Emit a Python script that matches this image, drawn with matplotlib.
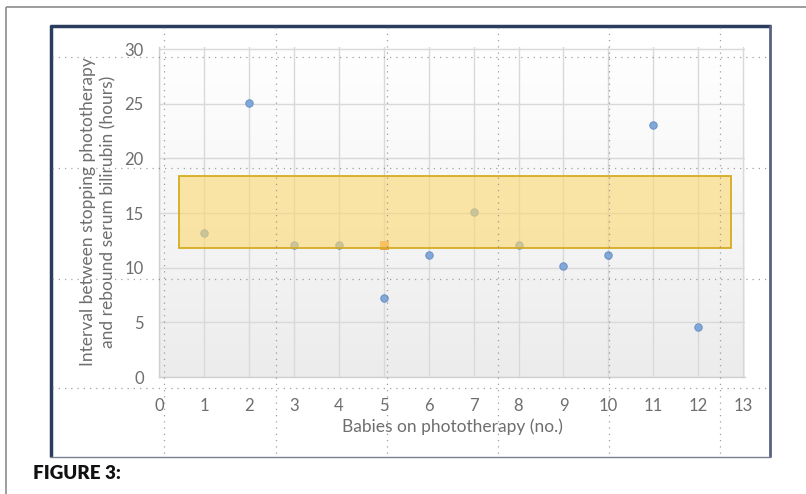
import matplotlib
matplotlib.use("Agg")
import matplotlib.pyplot as plt
import numpy as np
from matplotlib.lines import Line2D
from matplotlib.patches import Rectangle

# ---- data ----
babies = [1, 2, 3, 4, 5, 6, 7, 8, 9, 10, 11, 12]
interval_hours = [13.2, 25.1, 12.1, 12.1, 7.2, 11.2, 15.1, 12.1, 10.2, 11.2, 23.1, 4.6]
highlight_x = [5]
highlight_y = [12.1]
band_x = [0.45, 12.73]
band_y = [11.8, 18.4]
x_ticks = list(range(0, 14))
y_ticks = [0, 5, 10, 15, 20, 25, 30]

plt.rcParams['font.family'] = ['Lato', 'DejaVu Sans']

W, H = 806, 494
fig = plt.figure(figsize=(W / 100, H / 100), dpi=100)
fig.patch.set_facecolor('white')

def fx(px):
    return px / W

def fy(py):
    return 1 - py / H

ax = fig.add_axes([fx(159), fy(377), fx(745) - fx(159), fy(47) - fy(377)])
ax.set_xlim(0, 13.04)
ax.set_ylim(0, 30.2)

# background gradient (light gray at bottom to white at top)
grad = np.linspace(0, 1, 256).reshape(-1, 1)
ax.imshow(grad, extent=[0, 1, 0, 1], transform=ax.transAxes, origin='lower',
          cmap=matplotlib.colors.LinearSegmentedColormap.from_list(
              'g', ['#ececec', '#f6f6f6', '#ffffff']),
          aspect='auto', zorder=0)

ax.set_xticks(x_ticks)
ax.set_yticks(y_ticks)
ax.grid(True, color='#d9d9d9', lw=1.0, zorder=1)
ax.set_axisbelow(True)
ax.tick_params(axis='both', length=0, colors='#6e6e6e', labelsize=12)
ax.tick_params(axis='x', pad=15)
ax.tick_params(axis='y', pad=11)
for s in ['top', 'right']:
    ax.spines[s].set_visible(False)
for s in ['left', 'bottom']:
    ax.spines[s].set_color('#d0d0d0')
    ax.spines[s].set_linewidth(1.0)

ax.scatter(babies, interval_hours, s=28, color='#82a8d8', edgecolor='#6d94c8',
           linewidth=0.8, zorder=3)
ax.scatter(highlight_x, highlight_y, s=28, marker='s', color='#f5a04a',
           edgecolor='#f08a30', linewidth=0.5, zorder=3)

ax.add_patch(Rectangle((band_x[0], band_y[0]), band_x[1] - band_x[0],
                       band_y[1] - band_y[0], facecolor='#fcd870', alpha=0.6,
                       edgecolor='none', zorder=4))
ax.add_patch(Rectangle((band_x[0], band_y[0]), band_x[1] - band_x[0],
                       band_y[1] - band_y[0], facecolor='none',
                       edgecolor='#d4ac22', lw=1.3, zorder=5))

ax.set_xlabel('Babies on phototherapy (no.)', color='#6e6e6e', fontsize=12.5)
ax.xaxis.set_label_coords(0.5, -0.125)
ax.set_ylabel('Interval between stopping phototherapy\nand rebound serum bilirubin (hours)',
              color='#6e6e6e', fontsize=12.5, linespacing=1.3)
ax.yaxis.set_label_coords(-0.073, 0.5)

# scanned page artifacts: dotted layout grid
for px in [164, 276, 387, 498, 609, 720]:
    fig.add_artist(Line2D([fx(px), fx(px)], [fy(27), fy(456)], color='#7a7a7a',
                          lw=0.9, ls=(0, (1, 4)), alpha=0.7, zorder=6))
for py in [57, 168, 279, 388]:
    fig.add_artist(Line2D([fx(52), fx(769)], [fy(py), fy(py)], color='#7a7a7a',
                          lw=0.9, ls=(0, (1, 4)), alpha=0.7, zorder=6))

# frame around the figure panel
kw = dict(solid_capstyle='butt')
fig.add_artist(Line2D([fx(51), fx(51)], [fy(25), fy(457)], color='#2b3d5f', lw=2.5, **kw))
fig.add_artist(Line2D([fx(50), fx(771)], [fy(26), fy(26)], color='#2b3d5f', lw=2.5, **kw))
fig.add_artist(Line2D([fx(770), fx(770)], [fy(25), fy(457)], color='#5a6284', lw=2.0, **kw))
fig.add_artist(Line2D([fx(50), fx(771)], [fy(457), fy(457)], color='#7a8094', lw=1.0, **kw))

# outer page border
fig.add_artist(Line2D([fx(6), fx(6)], [fy(7), fy(494)], color='#8c8c8c', lw=1.2, **kw))
fig.add_artist(Line2D([fx(6), fx(806)], [fy(7), fy(7)], color='#8c8c8c', lw=1.2, **kw))

fig.text(fx(33), fy(473), 'FIGURE 3:', fontsize=13.5, fontweight='heavy',
         color='#111111', va='center', ha='left')

fig.savefig('out.png', dpi=100, facecolor='white')
